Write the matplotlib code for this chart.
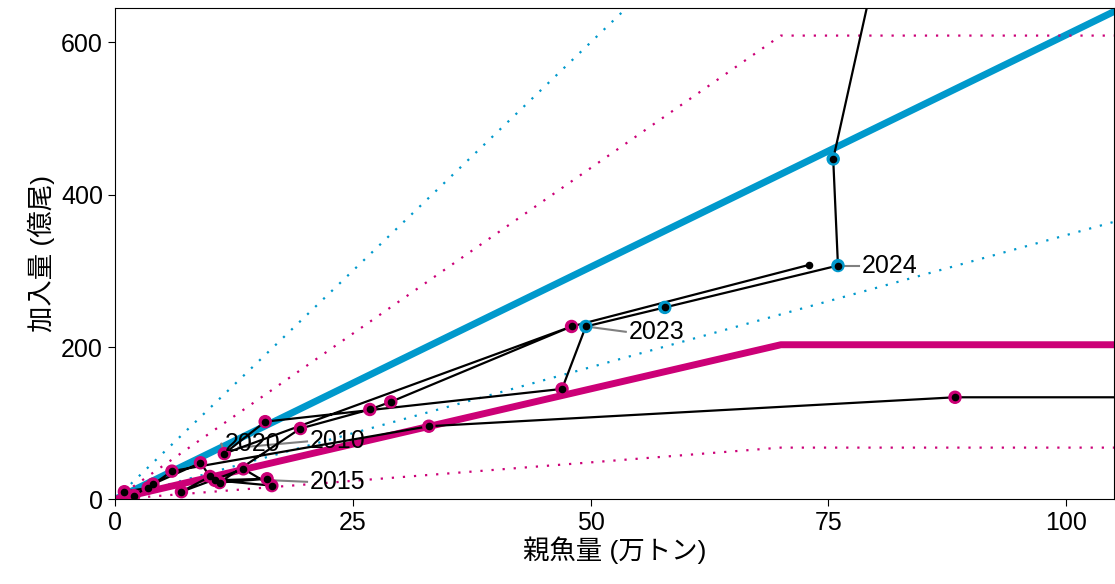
import matplotlib
matplotlib.use("Agg")
import matplotlib.pyplot as plt
import numpy as np

plt.rcParams['font.family'] = ['Liberation Sans', 'Noto Sans CJK JP']

# reference lines (slopes, breakpoints)
blue_slope = 6.1
blue_hi_slope = 12.0
blue_lo_slope = 3.47
mag_break = 70
mag_mid_slope = 2.9
mag_hi_slope = 8.7
mag_lo_slope = 0.97

# stock trajectory (spawning biomass 万トン, recruitment 億尾)
path_x = [125, 88.3, 33, 6, 3.5, 1, 2, 4, 9, 10, 7, 13.5, 16.5, 10.5, 16, 11, 19.5, 26.8, 29, 48,
          11.5, 15.8, 47, 49.5, 57.8, 76, 75.5, 80]
path_y = [134, 134, 96, 37, 15, 10, 5, 20, 48, 30, 10, 40, 18, 25, 27, 22, 93, 118, 128, 227,
          60, 102, 145, 227, 252, 307, 447, 700]
path_c = ['m'] * 23 + ['b'] * 5
extra_x = [48, 73]
extra_y = [227, 308]
labels = ['2024', '2023', '2020', '2010', '2015']
lab_pt = [(76, 307), (49.5, 227), (11.5, 60), (13, 68), (16.5, 25)]
lab_txt = [(78.5, 307), (54, 220), (11.5, 73), (20.5, 76), (20.5, 23)]

BLUE = '#0099cc'
MAG = '#cc0077'

fig, ax = plt.subplots(figsize=(11.15, 5.84), dpi=100)
fig.subplots_adjust(left=0.103, right=0.999, top=0.986, bottom=0.145)
xs = np.array([0, 110])
ax.plot(xs, blue_slope * xs, color=BLUE, lw=5, zorder=2)
ax.plot(xs, blue_hi_slope * xs, color=BLUE, lw=1.6, ls=(0, (1, 4)), zorder=2)
ax.plot(xs, blue_lo_slope * xs, color=BLUE, lw=1.6, ls=(0, (1, 4)), zorder=2)
mx = np.array([0, mag_break, 110])
for s, lw, ls in [(mag_mid_slope, 5, '-'), (mag_hi_slope, 1.6, (0, (1, 4))), (mag_lo_slope, 1.6, (0, (1, 4)))]:
    ax.plot(mx, [0, s * mag_break, s * mag_break], color=MAG, lw=lw, ls=ls, zorder=2)

ax.plot(path_x, path_y, color='black', lw=1.6, zorder=4)
ax.plot(extra_x, extra_y, color='black', lw=1.6, zorder=4)
cols = [MAG if c == 'm' else BLUE for c in path_c]
ax.scatter(path_x, path_y, s=75, c=cols, zorder=5)
ax.scatter(path_x, path_y, s=20, c='black', zorder=6)
ax.scatter([extra_x[1]], [extra_y[1]], s=20, c='black', zorder=6)
for t, p, q in zip(labels, lab_pt, lab_txt):
    ax.plot([p[0], q[0] - 0.3], [p[1], q[1]], color='gray', lw=1.5, zorder=3)
    ax.text(q[0], q[1], t, fontsize=18, va='center', ha='left', zorder=7)

ax.set_xlim(0, 105)
ax.set_ylim(0, 645)
ax.set_xticks([0, 25, 50, 75, 100])
ax.set_yticks([0, 200, 400, 600])
ax.tick_params(labelsize=18, length=5)
ax.set_xlabel('親魚量 (万トン)', fontsize=19, labelpad=1)
ax.set_ylabel('加入量 (億尾)', fontsize=19)
fig.savefig('out.png')
